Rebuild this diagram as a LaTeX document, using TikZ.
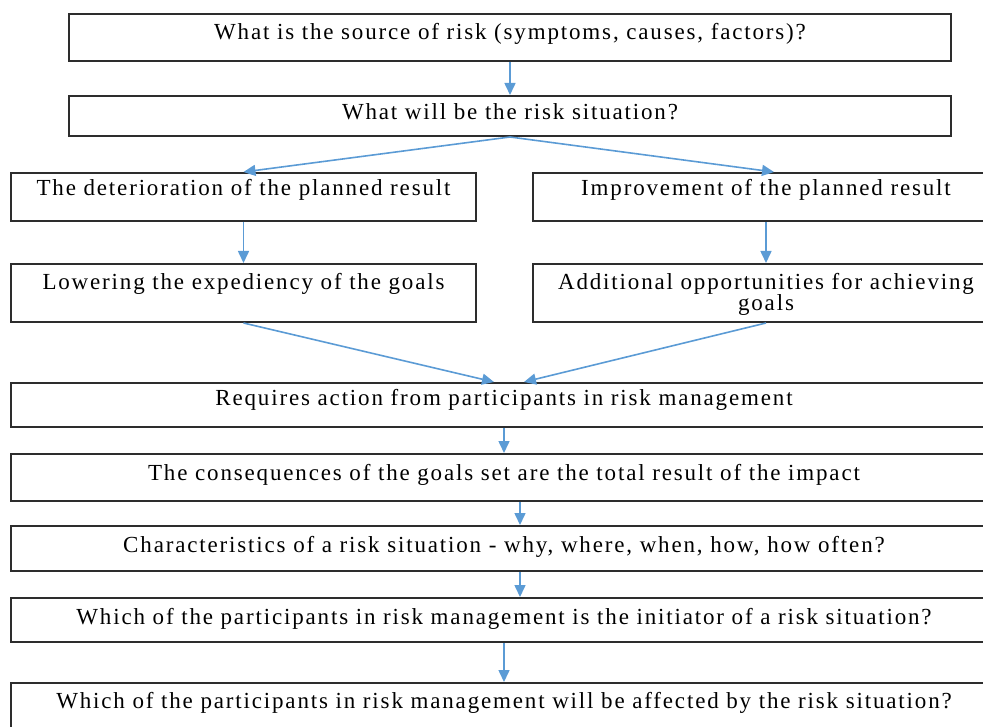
\documentclass[tikz,border=0pt]{standalone}
\usepackage{fontspec}
\setmainfont{Liberation Serif}[LetterSpace=8]
\usepackage{tikz}
\usetikzlibrary{arrows.meta, positioning}
\usepackage{xcolor}
\definecolor{flowblue}{RGB}{91,155,213}
\definecolor{boxline}{RGB}{45,45,45}

\begin{document}
\begin{tikzpicture}[
				x=1pt, y=-1pt,
				every node/.style={draw=boxline, line width=2pt, rectangle, anchor=north west, inner sep=0pt, align=center, font=\fontsize{23}{21}\selectfont},
				flow/.style={draw=flowblue, line width=1.6pt, -{Triangle[length=12pt, width=11pt]}}
				]
				\useasboundingbox (0,0) rectangle (983,727);
				\clip (0,0) rectangle (983,727);
				
				% question boxes
				\node[minimum width=882pt, text height=26pt, text depth=21pt] (source) at (68,13) {What is the source of risk (symptoms, causes, factors)?};
				\node[minimum width=882pt, text height=24pt, text depth=16pt] (situation) at (68,95) {What will be the risk situation?};
				
				% two branches
				\node[minimum width=465pt, text height=23pt, text depth=25pt] (worse) at (10,172) {The deterioration of the planned result};
				\node[minimum width=466pt, text height=23pt, text depth=25pt] (better) at (532,172) {Improvement of the planned result};
				\node[minimum width=465pt, text height=26pt, text depth=32pt] (lowering) at (10,263) {Lowering the expediency of the goals};
				\node[minimum width=466pt, text height=47pt, text depth=11pt] (extra) at (532,263) {Additional opportunities for achieving\\goals};
				
				% common chain
				\node[minimum width=986pt, text height=23pt, text depth=21pt] (action) at (10,382) {Requires action from participants in risk management};
				\node[minimum width=986pt, text height=26pt, text depth=21pt] (impact) at (10,453) {The consequences of the goals set are the total result of the impact};
				\node[minimum width=986pt, text height=26pt, text depth=19pt] (traits) at (10,525) {Characteristics of a risk situation - why, where, when, how, how often?};
				\node[minimum width=986pt, text height=26pt, text depth=18pt] (initiator) at (10,597) {Which of the participants in risk management is the initiator of a risk situation?};
				\node[minimum width=986pt, text height=25pt, text depth=60pt] (affected) at (10,682) {Which of the participants in risk management will be affected by the risk situation?};
				
				\draw[flow] (source.south) -- (situation.north);
				\draw[flow] (situation.south) -- (worse.north);
				\draw[flow] (situation.south) -- ([xshift=8pt]better.north);
				\draw[flow] (worse.south) -- (lowering.north);
				\draw[flow] (better.south) -- (extra.north);
				\draw[flow] (lowering.south) -- ([xshift=-10pt]action.north);
				\draw[flow] (extra.south) -- ([xshift=20pt]action.north);
				\draw[flow] (action.south) -- (impact.north);
				\draw[flow] ([xshift=16pt]impact.south) -- ([xshift=16pt]traits.north);
				\draw[flow] ([xshift=16pt]traits.south) -- ([xshift=16pt]initiator.north);
				\draw[flow] (initiator.south) -- (affected.north);
				
			\end{tikzpicture}
\end{document}
